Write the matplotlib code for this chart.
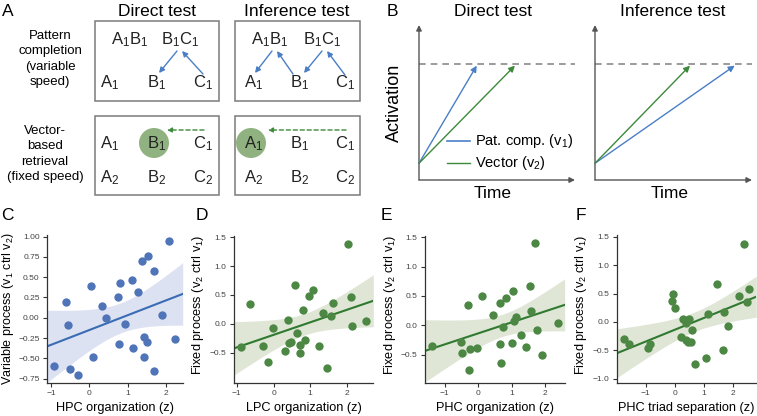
import numpy as np
import matplotlib
matplotlib.use("Agg")
import matplotlib.pyplot as plt
from matplotlib.patches import Rectangle, Circle

plt.rcParams["font.family"] = ["Liberation Sans", "DejaVu Sans"]
plt.rcParams["mathtext.fontset"] = "custom"
plt.rcParams["mathtext.rm"] = "Liberation Sans"
plt.rcParams["mathtext.it"] = "Liberation Sans:italic"

W, H = 757, 416

# ------------------------------------------------------------------
# dati pannelli C-F
# ------------------------------------------------------------------
hpc_org = [2.08, 1.52, 1.37, 1.68, 0.04, 0.80, 1.12, 1.26, 0.74, -0.62, 0.32, 0.43, -0.57,
           0.92, 1.89, 0.78, 1.15, 1.43, 1.50, 2.25, 1.42, 0.10, 1.68, -0.93, -0.51, -0.31]
variable_proc = [0.95, 0.76, 0.70, 0.575, 0.386, 0.427, 0.468, 0.32, 0.25, 0.20, 0.144, 0.0, -0.095,
                 -0.08, 0.04, -0.32, -0.37, -0.24, -0.30, -0.26, -0.48, -0.48, -0.66, -0.59, -0.63, -0.71]

lpc_org = [2.04, 0.59, 1.08, 0.97, -0.64, 2.12, 1.61, 0.80, 1.35, 1.57, 0.39, 2.52, 2.15,
           -0.02, 0.64, 0.86, 0.47, 0.43, 0.73, -0.29, -0.89, 1.24, 0.31, 0.73, -0.14, 1.47]
fixed_proc_lpc = [1.39, 0.665, 0.59, 0.486, 0.35, 0.46, 0.36, 0.237, 0.18, 0.133, 0.058, 0.046, -0.04,
                  -0.08, -0.168, -0.28, -0.31, -0.33, -0.37, -0.376, -0.40, -0.39, -0.47, -0.51, -0.66, -0.76]

phc_org = [1.69, 1.54, 1.03, 0.11, 0.84, -0.31, 0.65, 0.46, 1.58, 1.13, 1.08, 2.38, 0.75,
           1.77, 1.28, -1.37, -0.50, 0.65, 1.01, 1.42, -0.25, -0.03, -0.47, 1.92, 0.67, -0.26]
fixed_proc_phc = [1.40, 0.665, 0.59, 0.49, 0.466, 0.347, 0.37, 0.176, 0.24, 0.142, 0.063, 0.045, -0.034,
                  -0.074, -0.165, -0.36, -0.28, -0.32, -0.31, -0.37, -0.40, -0.39, -0.48, -0.51, -0.65, -0.76]

phc_triad = [2.37, 1.47, 2.56, 2.22, 2.48, -0.06, -0.10, 0.02, 1.15, 1.71, 0.30, 0.48, 0.38,
             1.85, 0.61, -1.76, -1.57, -0.84, -0.93, 0.21, 0.39, 0.47, 0.57, 1.67, 1.07, 0.69]
fixed_proc_triad = [1.38, 0.67, 0.58, 0.46, 0.35, 0.49, 0.36, 0.24, 0.14, 0.18, 0.06, 0.047, -0.02,
                    -0.07, -0.15, -0.30, -0.38, -0.39, -0.46, -0.27, -0.32, -0.35, -0.36, -0.49, -0.64, -0.745]

# pannello B: tempo per raggiungere la soglia (unita' arbitrarie)
b_tests = ["Direct test", "Inference test"]
b_rt_pattern = [0.37, 0.89]
b_rt_vector = [0.615, 0.605]
b_start = 0.108
b_threshold = 0.748

# pannello A
a_top_row = ["A$_1$B$_1$", "B$_1$C$_1$"]
a_items_1 = ["A$_1$", "B$_1$", "C$_1$"]
a_items_2 = ["A$_2$", "B$_2$", "C$_2$"]

BLUE = "#4a7fc6"
GREEN = "#3d8a3a"
GRAY_TXT = "#222222"


def px_rect(l, t, r, b):
    return [l / W, 1 - b / H, (r - l) / W, (b - t) / H]


fig = plt.figure(figsize=(W / 100, H / 100), dpi=100)

# overlay in pixel per testi e schema A
ov = fig.add_axes([0, 0, 1, 1])
ov.set_xlim(0, W)
ov.set_ylim(H, 0)
ov.axis("off")
ov.patch.set_visible(False)

# ------------------------------------------------------------------
# pannello A
# ------------------------------------------------------------------
ov.text(2, 11, "A", fontsize=12.5, va="center", ha="left")
ov.text(157, 11, "Direct test", fontsize=12.5, ha="center", va="center")
ov.text(297, 11, "Inference test", fontsize=12.5, ha="center", va="center")
ov.text(50, 59, "Pattern\ncompletion\n(variable\nspeed)", fontsize=9.5, ha="center",
        va="center", multialignment="center", linespacing=1.38)
ov.text(45, 154, "Vector-\nbased\nretrieval\n(fixed speed)", fontsize=9.5, ha="center",
        va="center", multialignment="center", linespacing=1.38)

for (l, t, r, b) in [(95, 21, 219, 101), (235, 21, 360, 101), (95, 116, 219, 195), (235, 116, 360, 195)]:
    ov.add_patch(Rectangle((l, t), r - l, b - t, fill=False, ec="#7a7a7a", lw=1.1))

box_fs = 12
cols_d = [110, 157, 203]
cols_i = [254, 300, 345]
# riga superiore (pattern completion)
ov.text(130, 40, a_top_row[0], fontsize=box_fs, ha="center", va="center", color=GRAY_TXT)
ov.text(180, 40, a_top_row[1], fontsize=box_fs, ha="center", va="center", color=GRAY_TXT)
ov.text(270, 40, a_top_row[0], fontsize=box_fs, ha="center", va="center", color=GRAY_TXT)
ov.text(322, 40, a_top_row[1], fontsize=box_fs, ha="center", va="center", color=GRAY_TXT)
for xc, s in zip(cols_d, a_items_1):
    ov.text(xc, 83, s, fontsize=box_fs, ha="center", va="center", color=GRAY_TXT)
for xc, s in zip(cols_i, a_items_1):
    ov.text(xc, 83, s, fontsize=box_fs, ha="center", va="center", color=GRAY_TXT)

arrow_kw = dict(arrowstyle="-|>", color=BLUE, lw=1.0, mutation_scale=8, shrinkA=0, shrinkB=0)
for (x0, y0, x1, y1) in [(177, 51, 159, 73), (203, 74, 182, 51),
                         (272, 51, 255, 73), (293, 74, 277, 51),
                         (322, 51, 304, 73), (345, 75, 327, 51)]:
    ov.annotate("", xy=(x1, y1), xytext=(x0, y0), arrowprops=arrow_kw)

# riga inferiore (vector retrieval)
ov.add_patch(Circle((154, 143), 15, color="#8fb280", lw=0))
ov.add_patch(Circle((251, 143), 15, color="#8fb280", lw=0))
for cols in (cols_d, cols_i):
    for xc, s in zip(cols, a_items_1):
        ov.text(xc, 144, s, fontsize=box_fs, ha="center", va="center", color=GRAY_TXT, zorder=3)
    for xc, s in zip(cols, a_items_2):
        ov.text(xc, 178, s, fontsize=box_fs, ha="center", va="center", color=GRAY_TXT)
dash_kw = dict(arrowstyle="-|>", color=GREEN, lw=1.0, ls=(0, (3, 2)), mutation_scale=7,
               shrinkA=0, shrinkB=0)
ov.annotate("", xy=(167, 130), xytext=(204, 130), arrowprops=dash_kw)
ov.annotate("", xy=(268, 130), xytext=(346, 130), arrowprops=dash_kw)

# ------------------------------------------------------------------
# pannello B
# ------------------------------------------------------------------
ov.text(387, 11, "B", fontsize=12.5, va="center", ha="left")
ov.text(394, 103, "Activation", fontsize=13, rotation=90, ha="center", va="center")

b_rects = [(419, 25, 575, 180), (595, 25, 752, 180)]
b_title_x = [493, 673]
b_time_x = [493, 670]
for i, rect in enumerate(b_rects):
    ax = fig.add_axes(px_rect(*rect))
    ax.set_xlim(0, 1)
    ax.set_ylim(0, 1)
    ax.axis("off")
    ax_kw = dict(arrowstyle="-|>", color="#555555", lw=1.0, mutation_scale=8, shrinkA=0, shrinkB=0)
    ax.annotate("", xy=(1, 0), xytext=(0, 0), arrowprops=ax_kw, annotation_clip=False)
    ax.annotate("", xy=(0, 1), xytext=(0, 0), arrowprops=ax_kw, annotation_clip=False)
    ax.axhline(b_threshold, color="#8a8a8a", lw=1.2, ls=(0, (4, 3)))
    ax.annotate("", xy=(b_rt_pattern[i], b_threshold - 0.01), xytext=(0, b_start),
                arrowprops=dict(arrowstyle="-|>", color=BLUE, lw=1.0, mutation_scale=9,
                                shrinkA=0, shrinkB=0))
    ax.annotate("", xy=(b_rt_vector[i], b_threshold - 0.01), xytext=(0, b_start),
                arrowprops=dict(arrowstyle="-|>", color=GREEN, lw=1.0, mutation_scale=9,
                                shrinkA=0, shrinkB=0))
    ov.text(b_title_x[i], 11, b_tests[i], fontsize=12.5, ha="center", va="center")
    ov.text(b_time_x[i], 193, "Time", fontsize=12.5, ha="center", va="center")
    if i == 0:
        ax.plot([0.18, 0.33], [0.25, 0.25], color=BLUE, lw=1.2, transform=ax.transAxes)
        ax.plot([0.18, 0.33], [0.11, 0.11], color=GREEN, lw=1.0, transform=ax.transAxes)
        ax.text(0.36, 0.25, "Pat. comp. (v$_1$)", fontsize=10.5, va="center", transform=ax.transAxes)
        ax.text(0.36, 0.11, "Vector (v$_2$)", fontsize=10.5, va="center", transform=ax.transAxes)

# ------------------------------------------------------------------
# pannelli C-F
# ------------------------------------------------------------------
T975 = 2.064  # t critico, df = 24


def scatter_panel(rect, x, y, xlim, ylim, yticks, yfmt, xlabel, ylabel, ylab_x, ylab_y,
                  dot, line, band, letter, letter_x, ylab_fs=9.2):
    ax = fig.add_axes(px_rect(*rect))
    x = np.asarray(x)
    y = np.asarray(y)
    n = len(x)
    slope, icpt = np.polyfit(x, y, 1)
    grid = np.linspace(xlim[0], xlim[1], 100)
    fit = icpt + slope * grid
    resid = y - (icpt + slope * x)
    s = np.sqrt(np.sum(resid ** 2) / (n - 2))
    sxx = np.sum((x - x.mean()) ** 2)
    se = s * np.sqrt(1 / n + (grid - x.mean()) ** 2 / sxx)
    ax.fill_between(grid, fit - T975 * se, fit + T975 * se, color=band, lw=0, zorder=1)
    ax.plot(grid, fit, color=line, lw=1.5, zorder=2)
    ax.scatter(x, y, s=36, color=dot, lw=0, zorder=3)
    ax.set_xlim(*xlim)
    ax.set_ylim(*ylim)
    ax.set_xticks([-1, 0, 1, 2])
    ax.set_xticklabels(["\u22121", "0", "1", "2"])
    ax.set_yticks(yticks)
    ax.set_yticklabels([(yfmt % v).replace("-", "\u2212") for v in yticks])
    for sp in ("top", "right"):
        ax.spines[sp].set_visible(False)
    for sp in ("left", "bottom"):
        ax.spines[sp].set_color("#333333")
        ax.spines[sp].set_linewidth(0.9)
    ax.tick_params(length=3, width=0.8, color="#333333", labelsize=6, labelcolor="#444444", pad=2.5)
    ax.set_xlabel(xlabel, fontsize=9.2, labelpad=3)
    ax.set_ylabel(ylabel, fontsize=ylab_fs)
    ax.yaxis.set_label_coords(ylab_x, ylab_y)
    ov.text(letter_x, 216, letter, fontsize=12.5, ha="left", va="center")
    return ax


fixed_lab = "Fixed process (v$_2$ ctrl v$_1$)"
scatter_panel((47.3, 235, 182.7, 382.7), hpc_org, variable_proc, (-1.10, 2.44), (-0.80, 1.02),
              [-0.75, -0.5, -0.25, 0, 0.25, 0.5, 0.75, 1.0], "%.2f",
              "HPC organization (z)", "Variable process (v$_1$ ctrl v$_2$)", -0.232, 0.5,
              "#4f74b8", "#3a6cb4", "#dde2f3", "C", 1, ylab_fs=9)
scatter_panel((234.3, 236, 373.3, 382.7), lpc_org, fixed_proc_lpc, (-1.07, 2.72), (-1.02, 1.52),
              [-0.5, 0, 0.5, 1.0, 1.5], "%.1f",
              "LPC organization (z)", fixed_lab, -0.205, 0.53,
              "#4c8744", "#2f7a30", "#dfe6d6", "D", 196)
scatter_panel((425.3, 236, 564.7, 382.7), phc_org, fixed_proc_phc, (-1.58, 2.59), (-0.98, 1.52),
              [-0.5, 0, 0.5, 1.0, 1.5], "%.1f",
              "PHC organization (z)", fixed_lab, -0.197, 0.53,
              "#4c8744", "#2f7a30", "#dfe6d6", "E", 381)
scatter_panel((617, 235, 756.3, 382.7), phc_triad, fixed_proc_triad, (-1.99, 2.81), (-1.07, 1.53),
              [-1.0, -0.5, 0, 0.5, 1.0, 1.5], "%.1f",
              "PHC triad separation (z)", fixed_lab, -0.20, 0.53,
              "#4c8744", "#2f7a30", "#dfe6d6", "F", 576)

fig.savefig("out.png", dpi=100)
